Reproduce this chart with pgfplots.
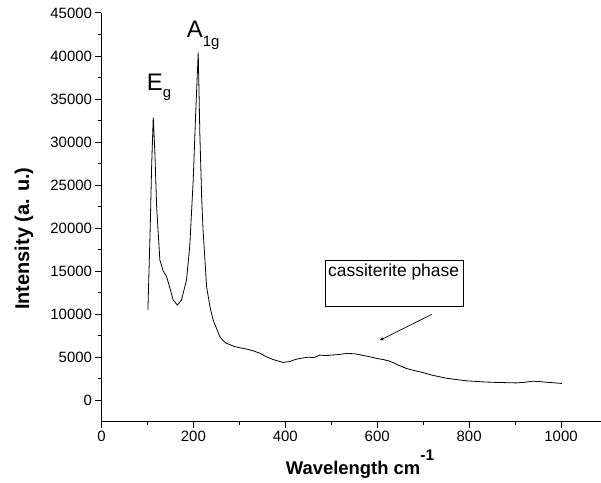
\documentclass[border=0pt]{standalone}
\usepackage{pgfplots}
\pgfplotsset{compat=1.18}
\usepackage{fontspec}
\setmainfont{Liberation Sans}
\begin{document}
\begin{tikzpicture}
\path[use as bounding box] (-101.5bp,-61.3bp) rectangle (499.5bp,421.7bp);
\begin{axis}[
  at={(0,0)}, anchor=south west,
  scale only axis, width=499.5bp, height=408.7bp,
  xmin=0, xmax=1087, ymin=-2500, ymax=45000,
  axis lines=left, axis line style={-, line width=1.1bp},
  tick align=outside, major tick length=6bp, minor tick length=3.5bp,
  tick style={line width=1bp, black},
  xtick={0,200,...,1000}, minor x tick num=1,
  ytick={0,5000,...,45000}, minor y tick num=1,
  scaled y ticks=false, scaled x ticks=false,
  /pgf/number format/set thousands separator={},
  /pgf/number format/assume math mode=true,
  ticklabel style={font=\fontsize{15}{15}\selectfont},
  xlabel={\textbf{Wavelength cm\raisebox{14bp}{\fontsize{15.5}{15.5}\selectfont -1}}},
  ylabel={\textbf{Intensity (a. u.)}},
  xlabel style={font=\fontsize{18.5}{18.5}\selectfont, at={(axis description cs:0.5175,-0.1304)}, anchor=base},
  ylabel style={font=\fontsize{20}{20}\selectfont, at={(axis description cs:-0.1451,0.448)}, anchor=base, rotate=0},
  clip=false,
]
\addplot[black, line width=0.8bp, sharp plot] coordinates {
(101,10500) (106,20000) (109,27000) (112.6,32860) (116,29000) (120,22500)
(123,19800) (127,16300) (134,15050) (141.7,14350) (149,13000) (156,11640)
(165,11060) (174,11640) (185,13970) (192,17840) (199.6,25600) (205,33400)
(210.5,40430) (214,31000) (218,23500) (221,19800) (228.7,13200) (236,10860)
(243,9300) (250,8380) (257.6,7370) (265,6900) (272,6600) (280,6450)
(286.5,6290) (300,6100) (315,5950) (330,5740) (345,5450) (359,5040)
(375,4700) (395,4390) (410,4500) (420,4700) (431.5,4850) (450,5000)
(462,4950) (475,5240) (490,5180) (500,5250) (515,5300) (533,5430)
(550,5400) (565,5250) (584,5040) (600,4850) (615,4700) (627,4540)
(645,4100) (663.5,3690) (680,3450) (700,3200) (720,2900) (736,2720)
(750,2560) (765,2450) (780,2350) (794,2250) (810,2200) (830,2130)
(850,2080) (866,2060) (885,2030) (902.6,2010) (920,2080) (939,2210)
(955,2150) (975,2060) (990,2000) (1002,1940)
};
\node[anchor=base west, inner sep=0, font=\fontsize{24}{24}\selectfont]
  at (axis cs:98.4,35970) {E\raisebox{-7bp}{\fontsize{15}{15}\selectfont g}};
\node[anchor=base west, inner sep=0, font=\fontsize{24}{24}\selectfont]
  at (axis cs:185.4,42176) {A\raisebox{-9bp}{\fontsize{15}{15}\selectfont 1g}};
\draw[line width=0.8bp] (axis cs:488,10948) rectangle (axis cs:787,16294);
\node[anchor=north west, inner sep=0, font=\fontsize{17.5}{17.5}\selectfont]
  at (axis cs:493,15900) {cassiterite phase};
\draw[-stealth, line width=0.7bp] (axis cs:718.6,9967) -- (axis cs:606,6978);
\end{axis}
\end{tikzpicture}
\end{document}
